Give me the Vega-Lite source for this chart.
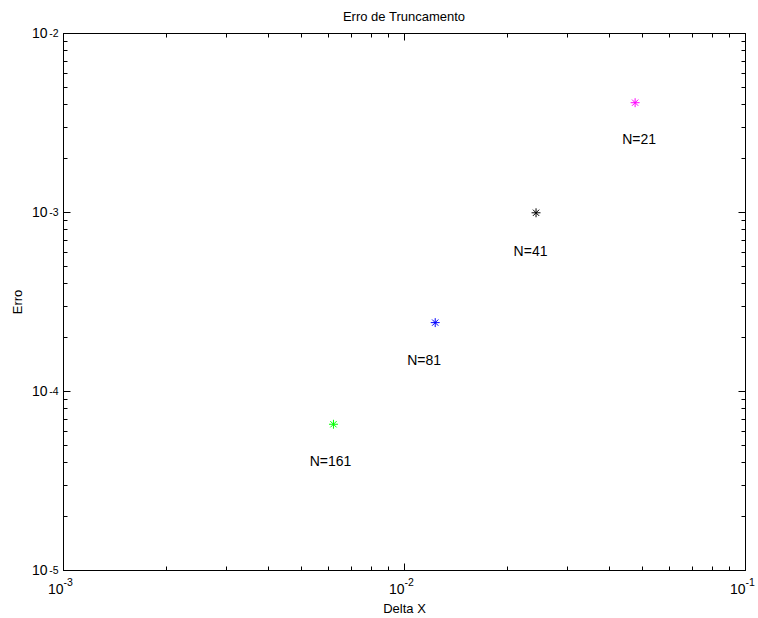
{
  "$schema": "https://vega.github.io/schema/vega-lite/v6.json",
  "width": 682,
  "height": 537,
  "autosize": {"type": "none"},
  "padding": {"left": 63, "top": 33, "right": 13, "bottom": 48},
  "background": "white",
  "title": {"text": "Erro de Truncamento", "fontSize": 13, "font": "Liberation Sans", "fontWeight": "normal", "color": "black", "offset": 2},
  "config": {
    "view": {"stroke": "black", "strokeWidth": 1},
    "axis": {
      "domainColor": "black",
      "tickColor": "black",
      "labelColor": "black",
      "titleColor": "black",
      "labelFont": "Liberation Sans",
      "titleFont": "Liberation Sans",
      "titleFontSize": 13,
      "titleFontWeight": "normal",
      "grid": false,
      "labelFlush": false,
      "labelOverlap": false
    }
  },
  "data": {
    "values": [
      {"dx": 0.047619, "erro": 0.00408, "label": "N=21", "lx": 0.0489, "ly": 0.00252},
      {"dx": 0.02439, "erro": 0.00099, "label": "N=41", "lx": 0.0235, "ly": 0.000600},
      {"dx": 0.012346, "erro": 0.000241, "label": "N=81", "lx": 0.01145, "ly": 0.000147},
      {"dx": 0.006211, "erro": 0.0000652, "label": "N=161", "lx": 0.00609, "ly": 0.0000401}
    ]
  },
  "layer": [
    {
      "mark": {"type": "point", "shape": "M-1,0L1,0M0,-1L0,1M-0.7,-0.7L0.7,0.7M-0.7,0.7L0.7,-0.7", "size": 80, "strokeWidth": 1, "filled": false, "opacity": 1},
      "encoding": {
        "x": {
          "field": "dx", "type": "quantitative",
          "scale": {"type": "log", "domain": [0.001, 0.1], "nice": false},
          "axis": {
            "orient": "bottom",
            "title": "Delta X",
            "values": [0.001, 0.01, 0.1],
            "labelExpr": "'10'",
            "ticks": false,
            "tickSize": 0,
            "labelFontSize": 14,
            "labelAlign": "right",
            "labelBaseline": "top",
            "labelDx": 2,
            "labelPadding": 12,
            "titlePadding": 6
          }
        },
        "y": {
          "field": "erro", "type": "quantitative",
          "scale": {"type": "log", "domain": [0.00001, 0.01], "nice": false},
          "axis": {
            "orient": "left",
            "title": "Erro",
            "values": [0.00001, 0.0001, 0.001, 0.01],
            "labelExpr": "'10'",
            "ticks": false,
            "tickSize": 0,
            "labelFontSize": 14,
            "labelAlign": "right",
            "labelBaseline": "middle",
            "labelPadding": 16,
            "labelDy": 2,
            "titlePadding": 7
          }
        },
        "color": {
          "field": "label", "type": "nominal",
          "scale": {"domain": ["N=21", "N=41", "N=81", "N=161"], "range": ["#ff00ff", "#000000", "#0000ff", "#00ff00"]},
          "legend": null
        }
      }
    },
    {
      "mark": {"type": "text", "fontSize": 14, "font": "Liberation Sans", "align": "center", "baseline": "middle", "color": "black"},
      "encoding": {
        "x": {
          "field": "lx", "type": "quantitative",
          "axis": {
            "orient": "top", "title": null, "labels": false,
            "values": [0.001, 0.002, 0.003, 0.004, 0.005, 0.006, 0.007, 0.008, 0.009, 0.01, 0.02, 0.03, 0.04, 0.05, 0.06, 0.07, 0.08, 0.09, 0.1],
            "tickSize": {"condition": {"test": "datum.value == 0.001 || datum.value == 0.01 || datum.value == 0.1", "value": -7}, "value": -4}
          }
        },
        "y": {
          "field": "ly", "type": "quantitative",
          "axis": {
            "orient": "right", "title": null, "labels": false,
            "values": [0.00001, 0.00002, 0.00003, 0.00004, 0.00005, 0.00006, 0.00007, 0.00008, 0.00009, 0.0001, 0.0002, 0.0003, 0.0004, 0.0005, 0.0006, 0.0007, 0.0008, 0.0009, 0.001, 0.002, 0.003, 0.004, 0.005, 0.006, 0.007, 0.008, 0.009, 0.01],
            "tickSize": {"condition": {"test": "datum.value == 0.00001 || datum.value == 0.0001 || datum.value == 0.001 || datum.value == 0.01", "value": -7}, "value": -4}
          }
        },
        "text": {"field": "label"}
      }
    },
    {
      "mark": {"type": "point", "opacity": 0},
      "encoding": {
        "x": {
          "field": "dx", "type": "quantitative",
          "axis": {
            "orient": "bottom", "title": null, "ticks": false, "tickSize": 0, "domain": false,
            "values": [0.001, 0.01, 0.1],
            "labelExpr": "datum.value == 0.001 ? '-3' : datum.value == 0.01 ? '-2' : '-1'",
            "labelFontSize": 10.5,
            "labelAlign": "left",
            "labelBaseline": "top",
            "labelDx": 2.7,
            "labelPadding": 7
          }
        },
        "y": {
          "field": "erro", "type": "quantitative",
          "axis": {
            "orient": "left", "title": null, "ticks": false, "tickSize": 0, "domain": false,
            "values": [0.00001, 0.0001, 0.001, 0.01],
            "labelExpr": "datum.value == 0.00001 ? '-5' : datum.value == 0.0001 ? '-4' : datum.value == 0.001 ? '-3' : '-2'",
            "labelFontSize": 10.5,
            "labelAlign": "right",
            "labelBaseline": "middle",
            "labelPadding": 5,
            "labelDy": -6
          }
        }
      }
    },
    {
      "mark": {"type": "point", "opacity": 0},
      "encoding": {
        "x": {
          "field": "dx", "type": "quantitative",
          "axis": {
            "orient": "bottom", "title": null, "labels": false, "domain": false,
            "values": [0.001, 0.002, 0.003, 0.004, 0.005, 0.006, 0.007, 0.008, 0.009, 0.01, 0.02, 0.03, 0.04, 0.05, 0.06, 0.07, 0.08, 0.09, 0.1],
            "tickSize": {"condition": {"test": "datum.value == 0.001 || datum.value == 0.01 || datum.value == 0.1", "value": -7}, "value": -4}
          }
        },
        "y": {
          "field": "erro", "type": "quantitative",
          "axis": {
            "orient": "left", "title": null, "labels": false, "domain": false,
            "values": [0.00001, 0.00002, 0.00003, 0.00004, 0.00005, 0.00006, 0.00007, 0.00008, 0.00009, 0.0001, 0.0002, 0.0003, 0.0004, 0.0005, 0.0006, 0.0007, 0.0008, 0.0009, 0.001, 0.002, 0.003, 0.004, 0.005, 0.006, 0.007, 0.008, 0.009, 0.01],
            "tickSize": {"condition": {"test": "datum.value == 0.00001 || datum.value == 0.0001 || datum.value == 0.001 || datum.value == 0.01", "value": -7}, "value": -4}
          }
        }
      }
    }
  ]
}
